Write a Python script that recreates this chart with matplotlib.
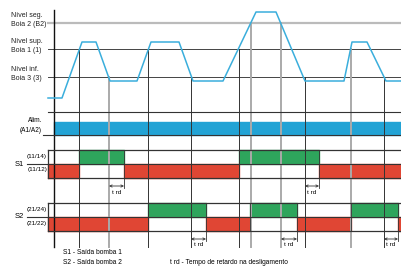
import matplotlib
matplotlib.use('Agg')
from matplotlib import pyplot as plt
import numpy as np

plt.rcParams['font.family'] = ['Liberation Sans', 'DejaVu Sans']

# water level curve (time, level) - in picture units, y grows downwards
t_water = [48, 62, 82, 96, 110, 137, 151, 179, 193, 223, 256, 276, 305, 344, 352, 367, 386, 401]
h_water = [98, 98, 42, 42, 81, 81, 42, 42, 81, 81, 12, 12, 81, 81, 42, 42, 81, 81]

# float switch levels
level_names = ['Nível seg.\nBoia 2 (B2)', 'Nível sup.\nBoia 1 (1)', 'Nível inf.\nBoia 3 (3)']
level_y = [23, 49, 77]
level_col = ['#bbbbbb', '#444444', '#444444']

# switching events (time, level reached, dark/gray)
ev_t = [79, 109, 148, 191, 239, 251, 281, 305, 351, 384]
ev_y = [49, 77, 49, 77, 49, 23, 23, 77, 49, 77]
ev_gray = [False, True, False, False, False, True, True, False, True, False]

# relay on-intervals
s1_on = [(79, 124), (239, 319)]
s2_on = [(148, 206), (250, 297), (351, 398)]
# delay arrows
s1_trd = [(109, 124), (305, 319)]
s2_trd = [(191, 206), (281, 297), (384, 398)]

x0, x_end, x_axis = 48, 401, 54
blue_line = '#3aaedc'
blue_bar = '#22a3d5'
green = '#2ea55c'
red = '#e04634'
dark = '#333333'
fs = 5.0


def off_intervals(on):
    out, start = [], x0
    for a, b in on:
        out.append((start, a))
        start = b
    out.append((start, x_end))
    return out


fig = plt.figure(figsize=(4.01, 2.67), dpi=100)
ax = fig.add_axes([0, 0, 1, 1])
ax.set_xlim(0, 401)
ax.set_ylim(267, 0)
ax.axis('off')

# level lines and labels
for name, y, c in zip(level_names, level_y, level_col):
    lw = 1.6 if c == '#bbbbbb' else 0.7
    ax.plot([x0, x_end], [y, y], color=c, lw=lw, zorder=1)
    ax.text(11, y - 3, name, fontsize=fs, va='center', ha='left',
            linespacing=1.5, color='#222222')

# event verticals
for t, y, g in zip(ev_t, ev_y, ev_gray):
    ax.plot([t, t], [y, 247], color='#aaaaaa' if g else dark,
            lw=1.4 if g else 0.7, zorder=3)

# main vertical axis
ax.plot([x_axis, x_axis], [10, 247], color='#111111', lw=1.0, zorder=4)

# water curve
ax.plot(t_water, h_water, color=blue_line, lw=1.1, zorder=5)

# supply
ax.plot([x0, x_end], [112, 112], color=dark, lw=0.8, zorder=4)
ax.broken_barh([(x_axis, x_end - x_axis)], (122, 13), color=blue_bar, zorder=2)
ax.plot([43, x_end], [135, 135], color=dark, lw=0.8, zorder=4)
ax.text(42, 121, 'Alim.', fontsize=fs - 0.3, ha='right', va='center')
ax.text(42, 131, '(A1/A2)', fontsize=fs - 0.3, ha='right', va='center')


def relay(name, codes, top, on, trd):
    mid, bot = top + 13.5, top + 28
    ax.broken_barh([(a, b - a) for a, b in on], (top, mid - top),
                   color=green, zorder=2)
    ax.broken_barh([(a, b - a) for a, b in off_intervals(on)], (mid, bot - mid),
                   color=red, zorder=2)
    for y in (top, bot):
        ax.plot([x0, x_end], [y, y], color=dark, lw=0.9, zorder=4)
    ax.plot([27, x_end], [mid, mid], color=dark, lw=0.8, zorder=4)
    ax.plot([x0, x0], [top, bot], color=dark, lw=0.9, zorder=4)
    for a, b in on:
        for t in (a, b):
            ax.plot([t, t], [top, bot], color=dark, lw=0.6, zorder=4)
    ax.text(15, mid + 0.5, name, fontsize=fs + 0.5, ha='left', va='center')
    ax.text(47, mid - 7, codes[0], fontsize=fs - 0.4, ha='right', va='center')
    ax.text(47, mid + 6.5, codes[1], fontsize=fs - 0.4, ha='right', va='center')
    ya = bot + 8
    for a, b in trd:
        ax.plot([b, b], [bot, ya + 2], color=dark, lw=0.6, zorder=4)
        ax.annotate('', xy=(a, ya), xytext=(b, ya),
                    arrowprops=dict(arrowstyle='<->', lw=0.6, color=dark,
                                    mutation_scale=4, shrinkA=0, shrinkB=0))
        ax.text((a + b) / 2, ya + 6, 't rd', fontsize=fs - 0.4, ha='center', va='center')


relay('S1', ['(11/14)', '(11/12)'], 150, s1_on, s1_trd)
relay('S2', ['(21/24)', '(21/22)'], 203, s2_on, s2_trd)

ax.text(63, 252, 'S1 - Saída bomba 1', fontsize=fs - 0.2, ha='left', va='center')
ax.text(63, 262, 'S2 - Saída bomba 2', fontsize=fs - 0.2, ha='left', va='center')
ax.text(170, 262, 't rd - Tempo de retardo na desligamento', fontsize=fs - 0.2,
        ha='left', va='center')

fig.savefig('out.png', dpi=100)
